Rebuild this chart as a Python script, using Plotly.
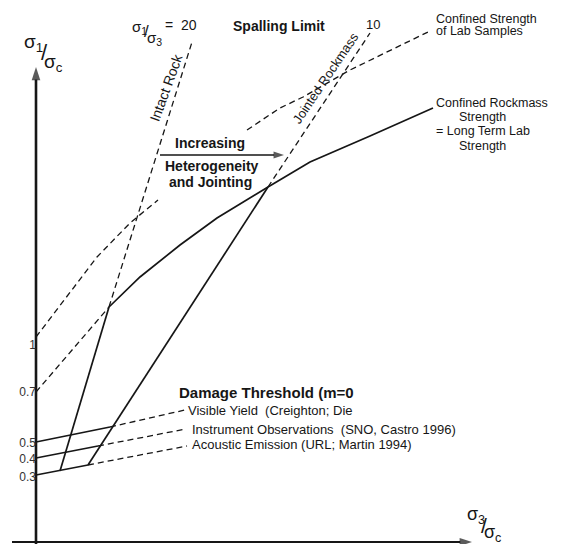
import plotly.graph_objects as go

# Schematic diagram units (not to scale): x ~ sigma3/sigma_c, y ~ sigma1/sigma_c
ytick_vals = [66, 84, 100, 151, 198]
ytick_text = ["0.3", "0.4", "0.5", "0.7", "1"]

# Axes (with arrow tips)
yaxis_x = [0, 0]
yaxis_y = [-1, 476]
xaxis_x = [-24, 436]
xaxis_y = [1, 1]
hetero_x = [124, 248]
hetero_y = [388, 388]

# Intact rock (sigma1/sigma3 = 20) : solid below kink, dashed above
intact_solid_x = [24, 73]
intact_solid_y = [72, 236]
intact_dash_x = [73, 156]
intact_dash_y = [236, 501]

# Jointed rockmass (sigma1/sigma3 = 10)
jointed_solid_x = [52, 232]
jointed_solid_y = [78, 356]
jointed_dash_x = [232, 334]
jointed_dash_y = [356, 510]

# Confined rockmass strength = long term lab strength
rockmass_x = [73, 104, 144, 181, 232, 274, 334, 397]
rockmass_y = [236, 266, 298, 325, 356, 381, 407, 435]

# Confined strength of lab samples (starts at 1), hidden behind label text
lab_x = [0, 61, 94, 122, None, 211, 244, 267, 314, 392]
lab_y = [206, 286, 320, 343, None, 413, 435, 446, 473, 511]

# Dashed line from 0.7 to kink
lab07_x = [0, 73]
lab07_y = [151, 236]

# Damage threshold lines (solid part, dashed leader)
visible_solid_x = [0, 74]
visible_solid_y = [101, 116]
visible_dash_x = [74, 149]
visible_dash_y = [116, 133]
instr_solid_x = [0, 62]
instr_solid_y = [85, 97]
instr_dash_x = [62, 150]
instr_dash_y = [97, 114]
acoustic_solid_x = [0, 52]
acoustic_solid_y = [68, 78]
acoustic_dash_x = [52, 151]
acoustic_dash_y = [78, 97]

FONT = "Liberation Sans, Arial, sans-serif"
INK = "#161616"
DASH = "6px,4px"

fig = go.Figure()


def add(x, y, dashed=False, width=1.7):
    fig.add_trace(go.Scatter(
        x=x, y=y, mode="lines", showlegend=False, hoverinfo="skip",
        line=dict(color=INK, width=(1.3 if dashed else width),
                  dash=(DASH if dashed else "solid"))))


def add_arrow(x, y, width, size):
    fig.add_trace(go.Scatter(
        x=x, y=y, mode="lines+markers", showlegend=False, hoverinfo="skip",
        line=dict(color=INK, width=width),
        marker=dict(symbol="arrow", angleref="previous", size=[0, size],
                    color=INK, line=dict(width=0))))


add_arrow(yaxis_x, yaxis_y, 2.6, 14)
add_arrow(xaxis_x, xaxis_y, 2.0, 13)
add_arrow(hetero_x, hetero_y, 1.3, 11)

add(intact_solid_x, intact_solid_y)
add(intact_dash_x, intact_dash_y, dashed=True)
add(jointed_solid_x, jointed_solid_y)
add(jointed_dash_x, jointed_dash_y, dashed=True)
add(rockmass_x, rockmass_y)
add(lab_x, lab_y, dashed=True)
add(lab07_x, lab07_y, dashed=True)
add(visible_solid_x, visible_solid_y)
add(visible_dash_x, visible_dash_y, dashed=True)
add(instr_solid_x, instr_solid_y)
add(instr_dash_x, instr_dash_y, dashed=True)
add(acoustic_solid_x, acoustic_solid_y)
add(acoustic_dash_x, acoustic_dash_y, dashed=True)

ann = []


def txt(x, y, s, size=13, bold=False, anchor="center", angle=0, color=INK):
    ann.append(dict(x=x, y=y, xref="x", yref="y", text=("<b>%s</b>" % s if bold else s),
                    showarrow=False, xanchor=anchor, yanchor="middle", textangle=angle,
                    borderpad=0, font=dict(family=FONT, size=size, color=color)))


# axis titles
txt(-3, 500, "σ<sub>1</sub>", size=19)
txt(8, 491, "/", size=22)
txt(17, 480, "σ<sub>c</sub>", size=19)
txt(440, 28, "σ<sub>3</sub>", size=18)
txt(448, 18, "/", size=21)
txt(456, 10, "σ<sub>c</sub>", size=18)

# top labels
txt(103, 516, "σ<sub>1</sub>", size=15)
txt(110, 512, "/", size=17)
txt(118, 505, "σ<sub>3</sub>", size=15)
txt(145, 518, "=  20", size=14)
txt(243, 517, "Spalling Limit", size=14, bold=True)
txt(337, 519, "10", size=13)

txt(130, 455, "Intact Rock", size=14, angle=-70)
txt(289, 465, "Jointed Rockmass", size=13, angle=-56)

txt(399, 524, "Confined Strength", size=12.5, anchor="left")
txt(399, 512, "of Lab Samples", size=12.5, anchor="left")

txt(399, 440, "Confined Rockmass", size=12.5, anchor="left")
txt(422, 426, "Strength", size=12.5, anchor="left")
txt(399, 412, "= Long Term Lab", size=12.5, anchor="left")
txt(422, 397, "Strength", size=12.5, anchor="left")

txt(174, 400, "Increasing", size=14, bold=True)
txt(176, 377, "Heterogeneity", size=14, bold=True)
txt(174, 361, "and Jointing", size=14, bold=True)

txt(142, 151, "Damage Threshold (m=0", size=15, bold=True, anchor="left")
txt(151, 133, "Visible Yield  (Creighton; Die", size=13, anchor="left")
txt(155, 114, "Instrument Observations  (SNO, Castro 1996)", size=13, anchor="left")
txt(155, 99, "Acoustic Emission (URL; Martin 1994)", size=13, anchor="left")

# page body has an 8px margin: the figure is sized to the visible 553x536 area
fig.update_layout(
    width=553, height=536,
    margin=dict(l=0, r=0, t=0, b=0, autoexpand=False),
    paper_bgcolor="white", plot_bgcolor="white",
    xaxis=dict(range=[-28, 525], domain=[0, 1], visible=False, fixedrange=True,
               automargin=False),
    yaxis=dict(range=[-1, 535], anchor="free", position=28 / 553, automargin=False,
               tickvals=ytick_vals, ticktext=ytick_text, ticks="",
               showgrid=False, zeroline=False, showline=False,
               tickfont=dict(family=FONT, size=12, color="#333333"),
               fixedrange=True),
    annotations=ann,
    showlegend=False,
)

fig.write_html("out.html")
